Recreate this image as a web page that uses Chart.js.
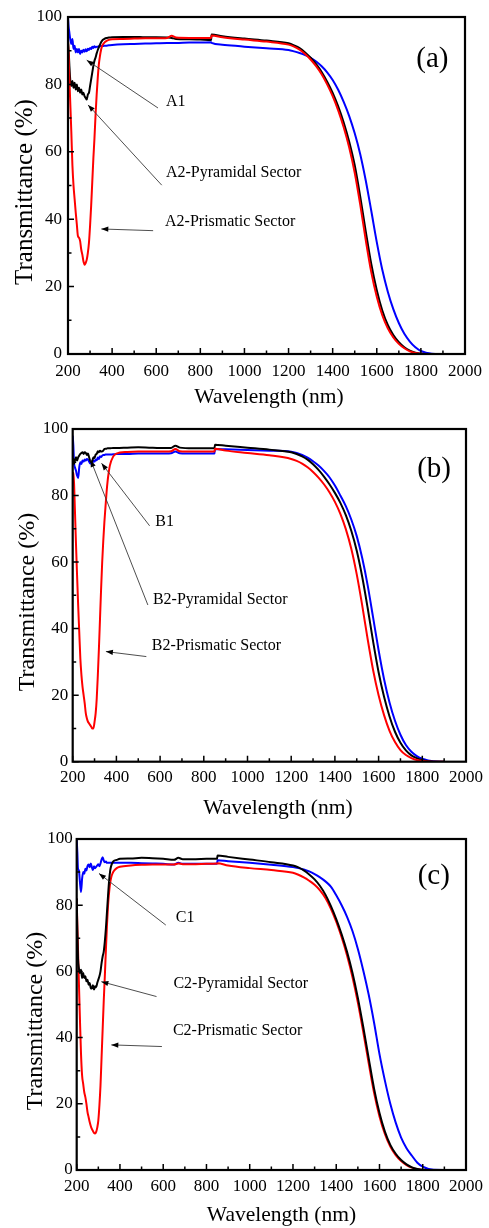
<!DOCTYPE html>
<html>
<head>
<meta charset="utf-8">
<title>Transmittance spectra (a)(b)(c)</title>
<script src="https://cdn.jsdelivr.net/npm/chart.js@4.4.1/dist/chart.umd.min.js"></script>
<style>
  html, body { margin: 0; padding: 0; background: #fff; }
  #page { position: relative; width: 489px; height: 1228px; overflow: hidden; }
  #page canvas { position: absolute; left: 0; }
</style>
</head>
<body>
<div id="page">
  <canvas id="chartA" width="489" height="412" style="top:0px"></canvas>
  <canvas id="chartB" width="489" height="420" style="top:405px"></canvas>
  <canvas id="chartC" width="489" height="413" style="top:815px"></canvas>
</div>
<script>
// wavelength grid (nm), shared by all nine spectra
const WAVE = [
  200, 203, 206, 210, 215, 220, 225, 230, 235, 240, 245, 250, 255, 260, 265, 270, 275, 280,
  285, 290, 295, 300, 305, 310, 315, 320, 325, 330, 335, 340, 345, 350, 355, 360, 365, 370,
  385, 400, 450, 500, 550, 600, 650, 670, 690, 750, 800, 849, 851, 900, 1000, 1100, 1200,
  1225, 1250, 1275, 1300, 1325, 1350, 1375, 1400, 1425, 1450, 1475, 1500, 1525, 1550, 1575,
  1600, 1625, 1650, 1675, 1700, 1725, 1750, 1775, 1800, 1850, 1900
];

// transmittance (%) — panel (a)
const A1 = [
  100, 97, 95.5, 93.5, 92, 93.5, 90.5, 91.5, 89.5, 90.5, 89.5, 90.5, 89, 90, 89.5, 90.3, 89.7, 90.4,
  89.8, 90.6, 90.2, 90.8, 90.5, 91.2, 90.8, 91.3, 91, 91.2, 91.2, 91.3, 91.3, 91.4, 91.4, 91.4, 91.5, 91.5,
  91.6, 91.7, 91.9, 92, 92.1, 92.2, 92.3, 92.3, 92.3, 92.4, 92.4, 92.5, 92.3, 91.8, 91.2, 90.7, 90.2,
  89.8, 89.3, 88.7, 87.9, 86.8, 85.4, 83.6, 81.3, 78.4, 74.8, 70.6, 65.5, 59.3, 51.5, 42.5,
  33.2, 25, 18.5, 13.3, 9.2, 6, 3.7, 2, 0.9, 0.1, 0
];
const A2_PYR = [
  93, 90, 86, 81.5, 79.5, 81, 79, 80.5, 78.5, 80, 78, 79, 77.5, 78.5, 77, 77.5, 76.5, 76,
  75.5, 77, 77.5, 79.5, 81.5, 83.5, 85.5, 87, 88, 89.2, 90.2, 91, 91.8, 92.5, 93, 93.3, 93.5, 93.7,
  93.9, 94, 94.1, 94.1, 94, 94, 93.9, 93.8, 93.5, 93.4, 93.3, 93.2, 94.8, 94.3, 93.6, 93, 92.2,
  91.6, 90.8, 89.5, 87.9, 86, 83.7, 80.8, 77.5, 73.5, 68.7, 63, 56, 46.7, 36.4, 26.7,
  18.9, 12.9, 8.6, 5.6, 3.5, 2, 1, 0.4, 0.1, 0, 0
];
const A2_PRI = [
  93, 88, 82, 75, 66, 56, 50, 46, 42, 38.5, 35, 34.5, 33.5, 31, 29.5, 27.5, 26.5, 27,
  28, 30, 33, 38, 44, 51, 58, 64, 71, 77, 82, 86, 88.5, 90.3, 91.4, 92, 92.4, 92.7,
  93.2, 93.4, 93.5, 93.6, 93.7, 93.7, 93.8, 94.4, 93.9, 93.8, 93.8, 93.8, 94.5, 94, 93.3, 92.7, 91.8,
  91.2, 90.3, 89, 87.4, 85.4, 83, 80, 76.5, 72.3, 67.3, 61.3, 53.8, 44.3, 33.8, 24.3,
  17, 11.5, 7.6, 4.9, 3, 1.7, 0.8, 0.3, 0.05, 0, 0
];

// transmittance (%) — panel (b)
const B1 = [
  98, 95, 90, 88.5, 87.5, 86, 85.3, 88.5, 90, 89.5, 90.5, 90.2, 90.8, 90.5, 91, 90.8, 90.2, 89.6,
  89.8, 89.8, 90.5, 90.2, 90.8, 90.6, 91.4, 91, 91.8, 91.6, 92, 92.2, 92.2, 92.3, 92.3, 92.3, 92.3, 92.3,
  92.4, 92.5, 92.5, 92.6, 92.6, 92.6, 92.7, 93.2, 92.7, 92.6, 92.6, 92.6, 94, 93.9, 93.7, 93.5, 93.2,
  92.8, 92.2, 91.4, 90.3, 89, 87.4, 85.5, 83, 80, 76.8, 72.8, 67.8, 61.2, 53, 43.3,
  33.5, 24.8, 17.8, 12.3, 8.1, 5, 3, 1.7, 0.9, 0.1, 0
];
const B2_PYR = [
  90, 91, 89.5, 90.5, 91.5, 90.5, 91.5, 92, 92.5, 92.8, 93, 92.5, 93, 92.8, 92.2, 92.6, 91.5, 90.5,
  90, 90.5, 91.5, 91.3, 92.3, 92.5, 93.3, 93, 93.5, 93.2, 93.3, 93.5, 94, 94.1, 94.1, 94.2, 94.2, 94.2,
  94.3, 94.3, 94.4, 94.5, 94.4, 94.3, 94.3, 95, 94.4, 94.2, 94.2, 94.2, 95.3, 95, 94.4, 93.8, 93,
  92.5, 91.8, 90.8, 89.4, 87.7, 85.7, 83.4, 80.8, 77.8, 74.1, 69.4, 63.4, 55.6, 46.2, 36.1,
  26.9, 19.5, 13.6, 9, 5.7, 3.4, 1.9, 1.05, 0.45, 0, 0
];
const B2_PRI = [
  87, 86.5, 84, 76, 65.5, 56, 47, 39, 31, 26, 22.5, 20, 17.5, 14.5, 13, 12, 11.5, 11,
  10.5, 10, 10, 12, 14.5, 19, 26, 34, 43, 52, 60, 66.5, 72, 76.5, 81, 84.5, 87, 89,
  91.7, 92.6, 93.1, 93.2, 93.2, 93.2, 93.3, 94, 93.3, 93.2, 93.2, 93.2, 94.1, 93.5, 92.8, 92.1, 91,
  90.4, 89.6, 88.5, 87.1, 85.4, 83.4, 81, 78.1, 74.5, 69.9, 64, 56.3, 47, 36.8, 27.5,
  20, 14, 9.3, 5.9, 3.5, 2, 1.1, 0.5, 0.2, 0, 0
];

// transmittance (%) — panel (c)
const C1 = [
  100, 96, 91, 90.5, 87, 84, 88, 90, 89.5, 91, 90.5, 91.8, 92.3, 91.5, 92.6, 91.5, 90.6, 91.8,
  91.2, 91.6, 92, 92.4, 91.8, 92.6, 93.8, 94.5, 93.5, 93, 93.2, 92.8, 92.8, 92.8, 92.8, 92.8, 92.8, 92.8,
  92.8, 92.8, 92.8, 92.7, 92.6, 92.5, 92.3, 92.8, 92.5, 92.5, 92.5, 92.5, 93.6, 93.3, 92.8, 92.2, 91.5,
  91.2, 90.8, 90.2, 89.4, 88.4, 87.2, 85.6, 83, 80, 76.5, 72.2, 66.8, 60.3, 53, 44.5,
  35, 27, 20, 14.3, 9.8, 6.6, 4.3, 2.2, 1, 0.05, 0
];
const C2_PYR = [
  82, 72, 64, 61, 59.5, 60.5, 58, 59.5, 58, 58.5, 57, 57.5, 56, 56.5, 55, 54.8, 55.8, 54.5,
  55.5, 55.2, 56.5, 57.5, 58.5, 60, 62.5, 64.5, 66, 69, 73, 78, 83, 87.5, 90.5, 92, 92.8, 93.3,
  93.7, 94, 94.1, 94.3, 94.2, 94, 93.7, 94.3, 93.9, 93.9, 94, 94, 95, 94.6, 93.8, 93, 92,
  91.4, 90.5, 89.3, 87.8, 85.8, 83.2, 79.8, 75.8, 71.2, 65.9, 59.6, 52, 43.2, 33.8, 24.6,
  17.2, 11.6, 7.6, 4.9, 3, 1.7, 0.8, 0.3, 0.05, 0, 0
];
const C2_PRI = [
  82, 74, 67, 57, 45.5, 35, 28.5, 26, 23.5, 22, 20, 17.5, 16, 14.5, 13.3, 12.4, 11.8, 11.2,
  11, 11.5, 12.8, 15, 19.5, 25.5, 34, 42.5, 51, 58.5, 66.5, 74, 80, 84, 86.8, 88.5, 89.5, 90.2,
  91.2, 91.6, 92, 92.2, 92.3, 92.3, 92.3, 92.6, 92.4, 92.4, 92.5, 92.6, 92.7, 92, 91.2, 90.6, 89.8,
  89.2, 88.4, 87.4, 86.2, 84.5, 82.2, 79, 75, 70.3, 64.8, 58.3, 50.6, 41.7, 32.3, 23.3,
  16.2, 10.9, 7.1, 4.5, 2.7, 1.5, 0.7, 0.25, 0, 0, 0
];

// annotation texts, anchored in data units [nm, %]
const NOTES_A = [
  { text: 'A1', at: [644, 74.8], from: [608, 73], to: [285, 87.2] },
  { text: 'A2-Pyramidal Sector', at: [644, 53.7], from: [625, 50.1], to: [291, 73.9] },
  { text: 'A2-Prismatic Sector', at: [640, 39.2], from: [586, 36.6], to: [351, 37.1] }
];
const NOTES_B = [
  { text: 'B1', at: [578, 72], from: [552, 70.9], to: [332, 89.7] },
  { text: 'B2-Pyramidal Sector', at: [567, 48.8], from: [544, 47.1], to: [282, 90.7] },
  { text: 'B2-Prismatic Sector', at: [562, 34.8], from: [537, 31.6], to: [352, 33.1] }
];
const NOTES_C = [
  { text: 'C1', at: [658, 76.2], from: [612, 74], to: [303, 89.6] },
  { text: 'C2-Pyramidal Sector', at: [647, 56.4], from: [569, 52.4], to: [314, 56.9] },
  { text: 'C2-Prismatic Sector', at: [645, 42.1], from: [594, 37.3], to: [360, 37.8] }
];

const SERIF = "'Liberation Serif', 'Times New Roman', serif";
const RED = '#ff0000', BLACK = '#000000', BLUE = '#0000ff';

const toPoints = values => WAVE.map((w, i) => ({ x: w, y: values[i] }));

function drawArrow(ctx, x0, y0, x1, y1) {
    ctx.beginPath();
    ctx.moveTo(x0, y0);
    ctx.lineTo(x1, y1);
    ctx.stroke();
    const ang = Math.atan2(y1 - y0, x1 - x0);
    const len = 7, half = 2.6;
    const bx = x1 - len * Math.cos(ang), by = y1 - len * Math.sin(ang);
    ctx.beginPath();
    ctx.moveTo(x1, y1);
    ctx.lineTo(bx + half * Math.sin(ang), by - half * Math.cos(ang));
    ctx.lineTo(bx - half * Math.sin(ang), by + half * Math.cos(ang));
    ctx.closePath();
    ctx.fill();
}

// frame, inward ticks, titles, arrows and panel letter
function overlay(panel) {
    return {
        id: 'overlay' + panel.tag,
        afterDatasetsDraw(chart) {
            const { ctx, chartArea: a } = chart;
            const xs = chart.scales.x, ys = chart.scales.y;
            ctx.save();

            ctx.strokeStyle = '#000';
            ctx.lineWidth = 1.5;
            ctx.beginPath();
            for (let v = xs.min; v <= xs.max; v += 100) {
                const px = xs.getPixelForValue(v);
                ctx.moveTo(px, a.bottom);
                ctx.lineTo(px, a.bottom - (v % 200 === 0 ? 6 : 3.5));
            }
            for (let v = ys.min; v <= ys.max; v += 10) {
                const py = ys.getPixelForValue(v);
                ctx.moveTo(a.left, py);
                ctx.lineTo(a.left + (v % 20 === 0 ? 6 : 3.5), py);
            }
            ctx.stroke();

            ctx.lineWidth = 2.2;
            ctx.strokeRect(a.left, a.top, a.right - a.left, a.bottom - a.top);

            // axis titles
            ctx.fillStyle = '#000';
            ctx.textAlign = 'center';
            ctx.textBaseline = 'middle';
            ctx.font = `21.5px ${SERIF}`;
            ctx.fillText('Wavelength (nm)', panel.xTitle[0], panel.xTitle[1]);
            ctx.save();
            ctx.translate(panel.yTitle[0], panel.yTitle[1]);
            ctx.rotate(-Math.PI / 2);
            ctx.font = `${panel.yTitleSize}px ${SERIF}`;
            ctx.fillText('Transmittance (%)', 0, 0);
            ctx.restore();

            // panel letter
            ctx.font = `29px ${SERIF}`;
            ctx.fillText(panel.letter, xs.getPixelForValue(panel.letterAt[0]), ys.getPixelForValue(panel.letterAt[1]));

            // annotations
            ctx.textAlign = 'left';
            ctx.font = `16px ${SERIF}`;
            ctx.strokeStyle = '#3a3a3a';
            ctx.fillStyle = '#000';
            ctx.lineWidth = 0.9;
            panel.notes.forEach(n => {
                ctx.fillText(n.text, xs.getPixelForValue(n.at[0]), ys.getPixelForValue(n.at[1]));
                drawArrow(ctx,
                    xs.getPixelForValue(n.from[0]), ys.getPixelForValue(n.from[1]),
                    xs.getPixelForValue(n.to[0]), ys.getPixelForValue(n.to[1]));
            });
            ctx.restore();
        }
    };
}

function buildPanel(panel) {
    const canvas = document.getElementById(panel.canvas);
    const H = canvas.height, W = canvas.width;
    const area = panel.area;
    const tickFont = { family: SERIF, size: 17 };
    return new Chart(canvas, {
        type: 'line',
        data: {
            datasets: panel.series.map(s => ({
                data: toPoints(s.values),
                borderColor: s.color,
                borderWidth: 2,
                pointRadius: 0,
                fill: false,
                cubicInterpolationMode: 'monotone'
            }))
        },
        options: {
            responsive: false,
            animation: false,
            events: [],
            layout: { padding: { top: area.top, right: W - area.right, left: 0, bottom: 0 } },
            plugins: { legend: { display: false }, tooltip: { enabled: false } },
            scales: {
                x: {
                    type: 'linear', min: 200, max: 2000,
                    afterFit: s => { s.height = H - area.bottom; },
                    grid: { display: false, drawTicks: false },
                    border: { display: false },
                    ticks: {
                        stepSize: 200, autoSkip: false, maxRotation: 0, padding: panel.xPad,
                        color: '#000', font: tickFont, callback: v => String(v)
                    }
                },
                y: {
                    type: 'linear', min: 0, max: 100,
                    afterFit: s => { s.width = area.left; },
                    grid: { display: false, drawTicks: false },
                    border: { display: false },
                    ticks: {
                        stepSize: 20, padding: panel.yPad,
                        color: '#000', font: tickFont, callback: v => String(v)
                    }
                }
            }
        },
        plugins: [overlay(panel)]
    });
}

document.addEventListener('DOMContentLoaded', () => {
    buildPanel({
        tag: 'A', canvas: 'chartA', letter: '(a)', letterAt: [1852, 87.5],
        area: { left: 68, top: 17, right: 469, bottom: 354 },
        xPad: 7, yPad: 6, xTitle: [269, 397], yTitle: [25.5, 192], yTitleSize: 25,
        notes: NOTES_A,
        series: [
            { values: A2_PRI, color: RED },
            { values: A2_PYR, color: BLACK },
            { values: A1, color: BLUE }
        ]
    });
    buildPanel({
        tag: 'B', canvas: 'chartB', letter: '(b)', letterAt: [1854, 88],
        area: { left: 72.7, top: 24, right: 468, bottom: 356.7 },
        xPad: 6, yPad: 4.5, xTitle: [278, 403], yTitle: [28, 197], yTitleSize: 24,
        notes: NOTES_B,
        series: [
            { values: B2_PRI, color: RED },
            { values: B2_PYR, color: BLACK },
            { values: B1, color: BLUE }
        ]
    });
    buildPanel({
        tag: 'C', canvas: 'chartC', letter: '(c)', letterAt: [1851, 88.7],
        area: { left: 76.7, top: 24, right: 470, bottom: 355 },
        xPad: 6, yPad: 4, xTitle: [281.5, 400], yTitle: [36, 206], yTitleSize: 24,
        notes: NOTES_C,
        series: [
            { values: C2_PYR, color: BLACK },
            { values: C2_PRI, color: RED },
            { values: C1, color: BLUE }
        ]
    });
});
</script>
</body>
</html>
